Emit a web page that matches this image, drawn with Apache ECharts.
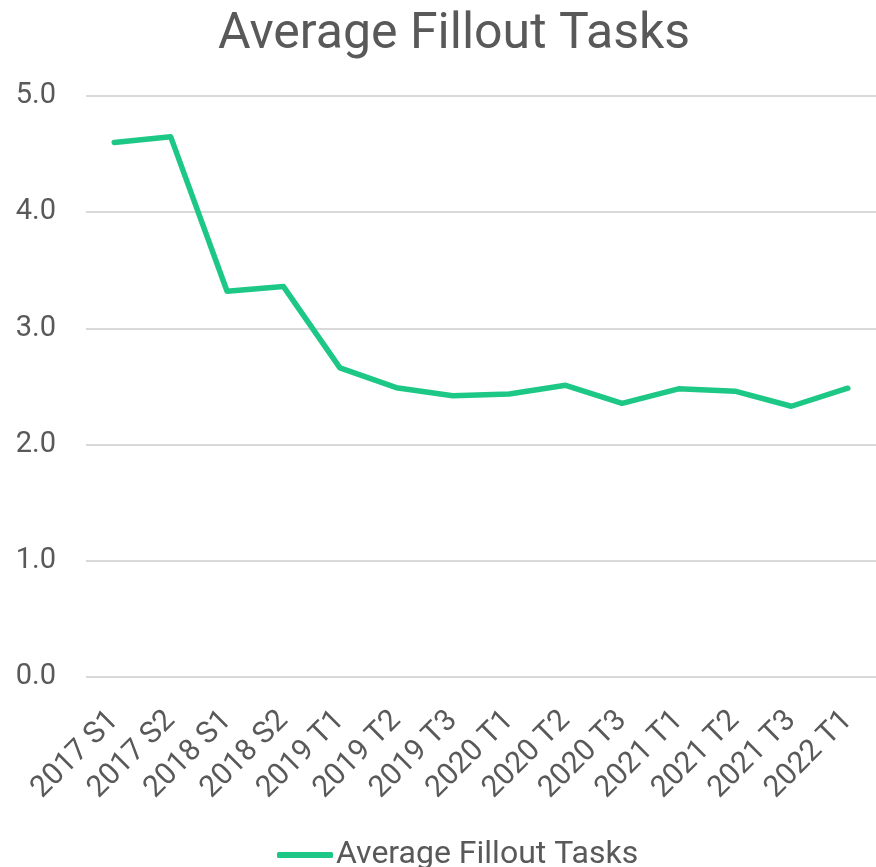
<!DOCTYPE html>
<html><head><meta charset="utf-8">
<script src="https://cdn.jsdelivr.net/npm/echarts@6/dist/echarts.min.js"></script>
<style>html,body{margin:0;padding:0;background:#fff}#c{width:876px;height:867px}</style>
</head><body><div id="c"></div>
<script>
const categories = ["2017 S1","2017 S2","2018 S1","2018 S2","2019 T1","2019 T2","2019 T3","2020 T1","2020 T2","2020 T3","2021 T1","2021 T2","2021 T3","2022 T1"];
const values = [4.60,4.65,3.32,3.36,2.66,2.49,2.42,2.435,2.51,2.355,2.48,2.46,2.33,2.485];
const yTicks = [0,1,2,3,4,5];
const seriesName = "Average Fillout Tasks";
const titleText = "Average Fillout Tasks";

const chart = echarts.init(document.getElementById('c'));
const txt = '#595959';
chart.setOption({
  animation:false,
  textStyle:{fontFamily:'Roboto'},
  title:{text:titleText,left:213,top:5,textStyle:{fontFamily:'Roboto',fontSize:50,fontWeight:'normal',color:txt}},
  grid:{left:86,top:96,width:799,height:581,containLabel:false},
  xAxis:{type:'category',data:categories,boundaryGap:true,
    axisLine:{show:false},axisTick:{show:false},
    axisLabel:{rotate:45,fontSize:30,color:txt,margin:39,interval:0,fontFamily:'Roboto'}},
  yAxis:{type:'value',min:yTicks[0],max:yTicks[yTicks.length-1],interval:1,
    axisLabel:{fontSize:29,color:txt,margin:30,fontFamily:'Roboto',formatter:v=>v.toFixed(1)},
    splitLine:{lineStyle:{color:'#d9d9d9',width:2}},axisLine:{show:false},axisTick:{show:false}},
  legend:{top:834,left:272,icon:'roundRect',itemWidth:56,itemHeight:6,itemGap:20,
    textStyle:{fontSize:32,color:txt,fontFamily:'Roboto',padding:[0,0,0,-2]},data:[seriesName]},
  series:[{name:seriesName,type:'line',data:values,showSymbol:false,symbol:'none',
    lineStyle:{color:'#1DC886',width:5.5,cap:'round',join:'round'},itemStyle:{color:'#1DC886'}}]
});
</script></body></html>
